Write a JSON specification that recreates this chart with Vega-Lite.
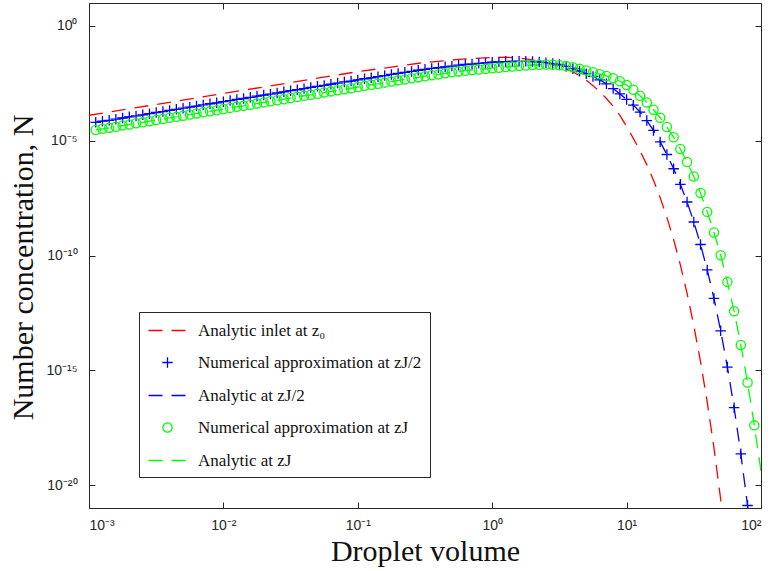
{
  "$schema": "https://vega.github.io/schema/vega-lite/v6.json",
  "autosize": "none",
  "width": 672,
  "height": 505,
  "padding": {"left": 89, "top": 3, "right": 11, "bottom": 63},
  "background": "white",
  "config": {
    "view": {"stroke": null},
    "axis": {"grid": false, "domainColor": "#262626", "tickColor": "#262626", "labelColor": "#262626", "labelFont": "Liberation Sans", "labelFontSize": 14, "tickSize": -6, "domainWidth": 1, "tickWidth": 1, "titleFont": "Liberation Serif", "titleFontSize": 30, "titleFontWeight": "normal", "titleColor": "#111111"},
    "legend": {"orient": "none", "legendX": 50, "legendY": 309, "strokeColor": "#262626", "fillColor": "white", "padding": 8, "labelFont": "Liberation Serif", "labelFontSize": 17, "labelColor": "#111111", "labelLimit": 400, "rowPadding": 14, "symbolStrokeWidth": 1.3, "symbolOffset": 10, "labelOffset": 20, "title": null}
  },
  "data": {"values": [
{"volume":0.001,"N":1.288e-4,"series":"inlet"},
{"volume":0.003162,"N":3.802e-4,"series":"inlet"},
{"volume":0.01,"N":1.148e-3,"series":"inlet"},
{"volume":0.03162,"N":3.388e-3,"series":"inlet"},
{"volume":0.1,"N":1.023e-2,"series":"inlet"},
{"volume":0.1778,"N":1.622e-2,"series":"inlet"},
{"volume":0.3162,"N":2.57e-2,"series":"inlet"},
{"volume":0.5623,"N":3.467e-2,"series":"inlet"},
{"volume":1,"N":4.266e-2,"series":"inlet"},
{"volume":1.259,"N":4.365e-2,"series":"inlet"},
{"volume":1.585,"N":3.981e-2,"series":"inlet"},
{"volume":1.995,"N":3.311e-2,"series":"inlet"},
{"volume":2.512,"N":2.512e-2,"series":"inlet"},
{"volume":3.162,"N":1.66e-2,"series":"inlet"},
{"volume":3.548,"N":1.318e-2,"series":"inlet"},
{"volume":3.981,"N":1e-2,"series":"inlet"},
{"volume":4.467,"N":6.761e-3,"series":"inlet"},
{"volume":5.012,"N":4.266e-3,"series":"inlet"},
{"volume":5.623,"N":2.512e-3,"series":"inlet"},
{"volume":6.31,"N":1.38e-3,"series":"inlet"},
{"volume":7.079,"N":6.918e-4,"series":"inlet"},
{"volume":7.943,"N":3.162e-4,"series":"inlet"},
{"volume":8.913,"N":1.259e-4,"series":"inlet"},
{"volume":10,"N":4.169e-5,"series":"inlet"},
{"volume":11.22,"N":1.259e-5,"series":"inlet"},
{"volume":12.59,"N":3.631e-6,"series":"inlet"},
{"volume":14.13,"N":9.12e-7,"series":"inlet"},
{"volume":15.85,"N":1.905e-7,"series":"inlet"},
{"volume":17.78,"N":3.311e-8,"series":"inlet"},
{"volume":19.95,"N":4.571e-9,"series":"inlet"},
{"volume":22.39,"N":4.898e-10,"series":"inlet"},
{"volume":25.12,"N":3.89e-11,"series":"inlet"},
{"volume":28.18,"N":2.239e-12,"series":"inlet"},
{"volume":31.62,"N":8.913e-14,"series":"inlet"},
{"volume":35.48,"N":2.399e-15,"series":"inlet"},
{"volume":39.81,"N":4.074e-17,"series":"inlet"},
{"volume":44.67,"N":4.169e-19,"series":"inlet"},
{"volume":50.12,"N":2.399e-21,"series":"inlet"},
{"volume":56.23,"N":7.244e-24,"series":"inlet"},
{"volume":0.001122,"N":6.31e-5,"series":"numHalf"},
{"volume":0.001259,"N":7.079e-5,"series":"numHalf"},
{"volume":0.001413,"N":7.762e-5,"series":"numHalf"},
{"volume":0.001585,"N":8.71e-5,"series":"numHalf"},
{"volume":0.001778,"N":9.772e-5,"series":"numHalf"},
{"volume":0.001995,"N":1.096e-4,"series":"numHalf"},
{"volume":0.002239,"N":1.202e-4,"series":"numHalf"},
{"volume":0.002512,"N":1.349e-4,"series":"numHalf"},
{"volume":0.002818,"N":1.514e-4,"series":"numHalf"},
{"volume":0.003162,"N":1.698e-4,"series":"numHalf"},
{"volume":0.003548,"N":1.862e-4,"series":"numHalf"},
{"volume":0.003981,"N":2.089e-4,"series":"numHalf"},
{"volume":0.004467,"N":2.344e-4,"series":"numHalf"},
{"volume":0.005012,"N":2.63e-4,"series":"numHalf"},
{"volume":0.005623,"N":2.884e-4,"series":"numHalf"},
{"volume":0.00631,"N":3.236e-4,"series":"numHalf"},
{"volume":0.007079,"N":3.631e-4,"series":"numHalf"},
{"volume":0.007943,"N":4.074e-4,"series":"numHalf"},
{"volume":0.008913,"N":4.467e-4,"series":"numHalf"},
{"volume":0.01,"N":5.012e-4,"series":"numHalf"},
{"volume":0.01122,"N":5.623e-4,"series":"numHalf"},
{"volume":0.01259,"N":6.31e-4,"series":"numHalf"},
{"volume":0.01413,"N":6.918e-4,"series":"numHalf"},
{"volume":0.01585,"N":7.762e-4,"series":"numHalf"},
{"volume":0.01778,"N":8.71e-4,"series":"numHalf"},
{"volume":0.01995,"N":9.772e-4,"series":"numHalf"},
{"volume":0.02239,"N":1.072e-3,"series":"numHalf"},
{"volume":0.02512,"N":1.202e-3,"series":"numHalf"},
{"volume":0.02818,"N":1.349e-3,"series":"numHalf"},
{"volume":0.03162,"N":1.514e-3,"series":"numHalf"},
{"volume":0.03548,"N":1.66e-3,"series":"numHalf"},
{"volume":0.03981,"N":1.862e-3,"series":"numHalf"},
{"volume":0.04467,"N":2.089e-3,"series":"numHalf"},
{"volume":0.05012,"N":2.344e-3,"series":"numHalf"},
{"volume":0.05623,"N":2.57e-3,"series":"numHalf"},
{"volume":0.0631,"N":2.884e-3,"series":"numHalf"},
{"volume":0.07079,"N":3.236e-3,"series":"numHalf"},
{"volume":0.07943,"N":3.631e-3,"series":"numHalf"},
{"volume":0.08913,"N":3.981e-3,"series":"numHalf"},
{"volume":0.1,"N":4.467e-3,"series":"numHalf"},
{"volume":0.1122,"N":5.012e-3,"series":"numHalf"},
{"volume":0.1259,"N":5.495e-3,"series":"numHalf"},
{"volume":0.1413,"N":6.166e-3,"series":"numHalf"},
{"volume":0.1585,"N":6.918e-3,"series":"numHalf"},
{"volume":0.1778,"N":7.762e-3,"series":"numHalf"},
{"volume":0.1995,"N":8.511e-3,"series":"numHalf"},
{"volume":0.2239,"N":9.55e-3,"series":"numHalf"},
{"volume":0.2512,"N":1.047e-2,"series":"numHalf"},
{"volume":0.2818,"N":1.175e-2,"series":"numHalf"},
{"volume":0.3162,"N":1.288e-2,"series":"numHalf"},
{"volume":0.3548,"N":1.413e-2,"series":"numHalf"},
{"volume":0.3981,"N":1.514e-2,"series":"numHalf"},
{"volume":0.4467,"N":1.66e-2,"series":"numHalf"},
{"volume":0.5012,"N":1.778e-2,"series":"numHalf"},
{"volume":0.5623,"N":1.95e-2,"series":"numHalf"},
{"volume":0.631,"N":2.089e-2,"series":"numHalf"},
{"volume":0.7079,"N":2.188e-2,"series":"numHalf"},
{"volume":0.7943,"N":2.344e-2,"series":"numHalf"},
{"volume":0.8913,"N":2.455e-2,"series":"numHalf"},
{"volume":1,"N":2.63e-2,"series":"numHalf"},
{"volume":1.122,"N":2.692e-2,"series":"numHalf"},
{"volume":1.259,"N":2.818e-2,"series":"numHalf"},
{"volume":1.413,"N":2.884e-2,"series":"numHalf"},
{"volume":1.585,"N":2.884e-2,"series":"numHalf"},
{"volume":1.778,"N":2.884e-2,"series":"numHalf"},
{"volume":1.995,"N":2.818e-2,"series":"numHalf"},
{"volume":2.239,"N":2.692e-2,"series":"numHalf"},
{"volume":2.512,"N":2.512e-2,"series":"numHalf"},
{"volume":2.818,"N":2.291e-2,"series":"numHalf"},
{"volume":3.162,"N":2.089e-2,"series":"numHalf"},
{"volume":3.548,"N":1.738e-2,"series":"numHalf"},
{"volume":3.981,"N":1.38e-2,"series":"numHalf"},
{"volume":4.467,"N":1.072e-2,"series":"numHalf"},
{"volume":5.012,"N":8.318e-3,"series":"numHalf"},
{"volume":5.623,"N":6.31e-3,"series":"numHalf"},
{"volume":6.31,"N":4.467e-3,"series":"numHalf"},
{"volume":7.079,"N":3.02e-3,"series":"numHalf"},
{"volume":7.943,"N":1.862e-3,"series":"numHalf"},
{"volume":8.913,"N":1.096e-3,"series":"numHalf"},
{"volume":10,"N":6.31e-4,"series":"numHalf"},
{"volume":11.22,"N":3.548e-4,"series":"numHalf"},
{"volume":12.59,"N":1.778e-4,"series":"numHalf"},
{"volume":14.13,"N":7.586e-5,"series":"numHalf"},
{"volume":15.85,"N":2.818e-5,"series":"numHalf"},
{"volume":17.78,"N":8.913e-6,"series":"numHalf"},
{"volume":19.95,"N":2.512e-6,"series":"numHalf"},
{"volume":22.39,"N":6.026e-7,"series":"numHalf"},
{"volume":25.12,"N":1.259e-7,"series":"numHalf"},
{"volume":28.18,"N":2.138e-8,"series":"numHalf"},
{"volume":31.62,"N":2.884e-9,"series":"numHalf"},
{"volume":35.48,"N":3.02e-10,"series":"numHalf"},
{"volume":39.81,"N":2.344e-11,"series":"numHalf"},
{"volume":44.67,"N":1.349e-12,"series":"numHalf"},
{"volume":50.12,"N":5.248e-14,"series":"numHalf"},
{"volume":56.23,"N":1.38e-15,"series":"numHalf"},
{"volume":63.1,"N":2.344e-17,"series":"numHalf"},
{"volume":70.79,"N":2.291e-19,"series":"numHalf"},
{"volume":79.43,"N":1.288e-21,"series":"numHalf"},
{"volume":89.13,"N":3.981e-24,"series":"numHalf"},
{"volume":0.001122,"N":6.31e-5,"series":"anaHalf"},
{"volume":0.001259,"N":7.079e-5,"series":"anaHalf"},
{"volume":0.001413,"N":7.762e-5,"series":"anaHalf"},
{"volume":0.001585,"N":8.71e-5,"series":"anaHalf"},
{"volume":0.001778,"N":9.772e-5,"series":"anaHalf"},
{"volume":0.001995,"N":1.096e-4,"series":"anaHalf"},
{"volume":0.002239,"N":1.202e-4,"series":"anaHalf"},
{"volume":0.002512,"N":1.349e-4,"series":"anaHalf"},
{"volume":0.002818,"N":1.514e-4,"series":"anaHalf"},
{"volume":0.003162,"N":1.698e-4,"series":"anaHalf"},
{"volume":0.003548,"N":1.862e-4,"series":"anaHalf"},
{"volume":0.003981,"N":2.089e-4,"series":"anaHalf"},
{"volume":0.004467,"N":2.344e-4,"series":"anaHalf"},
{"volume":0.005012,"N":2.63e-4,"series":"anaHalf"},
{"volume":0.005623,"N":2.884e-4,"series":"anaHalf"},
{"volume":0.00631,"N":3.236e-4,"series":"anaHalf"},
{"volume":0.007079,"N":3.631e-4,"series":"anaHalf"},
{"volume":0.007943,"N":4.074e-4,"series":"anaHalf"},
{"volume":0.008913,"N":4.467e-4,"series":"anaHalf"},
{"volume":0.01,"N":5.012e-4,"series":"anaHalf"},
{"volume":0.01122,"N":5.623e-4,"series":"anaHalf"},
{"volume":0.01259,"N":6.31e-4,"series":"anaHalf"},
{"volume":0.01413,"N":6.918e-4,"series":"anaHalf"},
{"volume":0.01585,"N":7.762e-4,"series":"anaHalf"},
{"volume":0.01778,"N":8.71e-4,"series":"anaHalf"},
{"volume":0.01995,"N":9.772e-4,"series":"anaHalf"},
{"volume":0.02239,"N":1.072e-3,"series":"anaHalf"},
{"volume":0.02512,"N":1.202e-3,"series":"anaHalf"},
{"volume":0.02818,"N":1.349e-3,"series":"anaHalf"},
{"volume":0.03162,"N":1.514e-3,"series":"anaHalf"},
{"volume":0.03548,"N":1.66e-3,"series":"anaHalf"},
{"volume":0.03981,"N":1.862e-3,"series":"anaHalf"},
{"volume":0.04467,"N":2.089e-3,"series":"anaHalf"},
{"volume":0.05012,"N":2.344e-3,"series":"anaHalf"},
{"volume":0.05623,"N":2.57e-3,"series":"anaHalf"},
{"volume":0.0631,"N":2.884e-3,"series":"anaHalf"},
{"volume":0.07079,"N":3.236e-3,"series":"anaHalf"},
{"volume":0.07943,"N":3.631e-3,"series":"anaHalf"},
{"volume":0.08913,"N":3.981e-3,"series":"anaHalf"},
{"volume":0.1,"N":4.467e-3,"series":"anaHalf"},
{"volume":0.1122,"N":5.012e-3,"series":"anaHalf"},
{"volume":0.1259,"N":5.495e-3,"series":"anaHalf"},
{"volume":0.1413,"N":6.166e-3,"series":"anaHalf"},
{"volume":0.1585,"N":6.918e-3,"series":"anaHalf"},
{"volume":0.1778,"N":7.762e-3,"series":"anaHalf"},
{"volume":0.1995,"N":8.511e-3,"series":"anaHalf"},
{"volume":0.2239,"N":9.55e-3,"series":"anaHalf"},
{"volume":0.2512,"N":1.047e-2,"series":"anaHalf"},
{"volume":0.2818,"N":1.175e-2,"series":"anaHalf"},
{"volume":0.3162,"N":1.288e-2,"series":"anaHalf"},
{"volume":0.3548,"N":1.413e-2,"series":"anaHalf"},
{"volume":0.3981,"N":1.514e-2,"series":"anaHalf"},
{"volume":0.4467,"N":1.66e-2,"series":"anaHalf"},
{"volume":0.5012,"N":1.778e-2,"series":"anaHalf"},
{"volume":0.5623,"N":1.95e-2,"series":"anaHalf"},
{"volume":0.631,"N":2.089e-2,"series":"anaHalf"},
{"volume":0.7079,"N":2.188e-2,"series":"anaHalf"},
{"volume":0.7943,"N":2.344e-2,"series":"anaHalf"},
{"volume":0.8913,"N":2.455e-2,"series":"anaHalf"},
{"volume":1,"N":2.63e-2,"series":"anaHalf"},
{"volume":1.122,"N":2.692e-2,"series":"anaHalf"},
{"volume":1.259,"N":2.818e-2,"series":"anaHalf"},
{"volume":1.413,"N":2.884e-2,"series":"anaHalf"},
{"volume":1.585,"N":2.884e-2,"series":"anaHalf"},
{"volume":1.778,"N":2.884e-2,"series":"anaHalf"},
{"volume":1.995,"N":2.818e-2,"series":"anaHalf"},
{"volume":2.239,"N":2.692e-2,"series":"anaHalf"},
{"volume":2.512,"N":2.512e-2,"series":"anaHalf"},
{"volume":2.818,"N":2.291e-2,"series":"anaHalf"},
{"volume":3.162,"N":2.089e-2,"series":"anaHalf"},
{"volume":3.548,"N":1.738e-2,"series":"anaHalf"},
{"volume":3.981,"N":1.38e-2,"series":"anaHalf"},
{"volume":4.467,"N":1.072e-2,"series":"anaHalf"},
{"volume":5.012,"N":8.318e-3,"series":"anaHalf"},
{"volume":5.623,"N":6.31e-3,"series":"anaHalf"},
{"volume":6.31,"N":4.467e-3,"series":"anaHalf"},
{"volume":7.079,"N":3.02e-3,"series":"anaHalf"},
{"volume":7.943,"N":1.862e-3,"series":"anaHalf"},
{"volume":8.913,"N":1.096e-3,"series":"anaHalf"},
{"volume":10,"N":6.31e-4,"series":"anaHalf"},
{"volume":11.22,"N":3.548e-4,"series":"anaHalf"},
{"volume":12.59,"N":1.778e-4,"series":"anaHalf"},
{"volume":14.13,"N":7.586e-5,"series":"anaHalf"},
{"volume":15.85,"N":2.818e-5,"series":"anaHalf"},
{"volume":17.78,"N":8.913e-6,"series":"anaHalf"},
{"volume":19.95,"N":2.512e-6,"series":"anaHalf"},
{"volume":22.39,"N":6.026e-7,"series":"anaHalf"},
{"volume":25.12,"N":1.259e-7,"series":"anaHalf"},
{"volume":28.18,"N":2.138e-8,"series":"anaHalf"},
{"volume":31.62,"N":2.884e-9,"series":"anaHalf"},
{"volume":35.48,"N":3.02e-10,"series":"anaHalf"},
{"volume":39.81,"N":2.344e-11,"series":"anaHalf"},
{"volume":44.67,"N":1.349e-12,"series":"anaHalf"},
{"volume":50.12,"N":5.248e-14,"series":"anaHalf"},
{"volume":56.23,"N":1.38e-15,"series":"anaHalf"},
{"volume":63.1,"N":2.344e-17,"series":"anaHalf"},
{"volume":70.79,"N":2.291e-19,"series":"anaHalf"},
{"volume":79.43,"N":1.288e-21,"series":"anaHalf"},
{"volume":89.13,"N":3.981e-24,"series":"anaHalf"},
{"volume":0.001122,"N":2.951e-5,"series":"numJ"},
{"volume":0.001259,"N":3.311e-5,"series":"numJ"},
{"volume":0.001413,"N":3.631e-5,"series":"numJ"},
{"volume":0.001585,"N":4.074e-5,"series":"numJ"},
{"volume":0.001778,"N":4.571e-5,"series":"numJ"},
{"volume":0.001995,"N":5.129e-5,"series":"numJ"},
{"volume":0.002239,"N":5.754e-5,"series":"numJ"},
{"volume":0.002512,"N":6.31e-5,"series":"numJ"},
{"volume":0.002818,"N":7.079e-5,"series":"numJ"},
{"volume":0.003162,"N":7.943e-5,"series":"numJ"},
{"volume":0.003548,"N":8.913e-5,"series":"numJ"},
{"volume":0.003981,"N":1e-4,"series":"numJ"},
{"volume":0.004467,"N":1.096e-4,"series":"numJ"},
{"volume":0.005012,"N":1.23e-4,"series":"numJ"},
{"volume":0.005623,"N":1.38e-4,"series":"numJ"},
{"volume":0.00631,"N":1.549e-4,"series":"numJ"},
{"volume":0.007079,"N":1.738e-4,"series":"numJ"},
{"volume":0.007943,"N":1.905e-4,"series":"numJ"},
{"volume":0.008913,"N":2.138e-4,"series":"numJ"},
{"volume":0.01,"N":2.399e-4,"series":"numJ"},
{"volume":0.01122,"N":2.692e-4,"series":"numJ"},
{"volume":0.01259,"N":3.02e-4,"series":"numJ"},
{"volume":0.01413,"N":3.311e-4,"series":"numJ"},
{"volume":0.01585,"N":3.715e-4,"series":"numJ"},
{"volume":0.01778,"N":4.169e-4,"series":"numJ"},
{"volume":0.01995,"N":4.677e-4,"series":"numJ"},
{"volume":0.02239,"N":5.248e-4,"series":"numJ"},
{"volume":0.02512,"N":5.754e-4,"series":"numJ"},
{"volume":0.02818,"N":6.457e-4,"series":"numJ"},
{"volume":0.03162,"N":7.244e-4,"series":"numJ"},
{"volume":0.03548,"N":8.128e-4,"series":"numJ"},
{"volume":0.03981,"N":9.12e-4,"series":"numJ"},
{"volume":0.04467,"N":1e-3,"series":"numJ"},
{"volume":0.05012,"N":1.122e-3,"series":"numJ"},
{"volume":0.05623,"N":1.259e-3,"series":"numJ"},
{"volume":0.0631,"N":1.413e-3,"series":"numJ"},
{"volume":0.07079,"N":1.585e-3,"series":"numJ"},
{"volume":0.07943,"N":1.738e-3,"series":"numJ"},
{"volume":0.08913,"N":1.95e-3,"series":"numJ"},
{"volume":0.1,"N":2.188e-3,"series":"numJ"},
{"volume":0.1122,"N":2.455e-3,"series":"numJ"},
{"volume":0.1259,"N":2.754e-3,"series":"numJ"},
{"volume":0.1413,"N":3.02e-3,"series":"numJ"},
{"volume":0.1585,"N":3.388e-3,"series":"numJ"},
{"volume":0.1778,"N":3.802e-3,"series":"numJ"},
{"volume":0.1995,"N":4.266e-3,"series":"numJ"},
{"volume":0.2239,"N":4.677e-3,"series":"numJ"},
{"volume":0.2512,"N":5.248e-3,"series":"numJ"},
{"volume":0.2818,"N":5.754e-3,"series":"numJ"},
{"volume":0.3162,"N":6.457e-3,"series":"numJ"},
{"volume":0.3548,"N":7.079e-3,"series":"numJ"},
{"volume":0.3981,"N":7.762e-3,"series":"numJ"},
{"volume":0.4467,"N":8.71e-3,"series":"numJ"},
{"volume":0.5012,"N":9.55e-3,"series":"numJ"},
{"volume":0.5623,"N":1.047e-2,"series":"numJ"},
{"volume":0.631,"N":1.122e-2,"series":"numJ"},
{"volume":0.7079,"N":1.202e-2,"series":"numJ"},
{"volume":0.7943,"N":1.259e-2,"series":"numJ"},
{"volume":0.8913,"N":1.349e-2,"series":"numJ"},
{"volume":1,"N":1.445e-2,"series":"numJ"},
{"volume":1.122,"N":1.514e-2,"series":"numJ"},
{"volume":1.259,"N":1.622e-2,"series":"numJ"},
{"volume":1.413,"N":1.698e-2,"series":"numJ"},
{"volume":1.585,"N":1.82e-2,"series":"numJ"},
{"volume":1.778,"N":1.905e-2,"series":"numJ"},
{"volume":1.995,"N":1.995e-2,"series":"numJ"},
{"volume":2.239,"N":2.042e-2,"series":"numJ"},
{"volume":2.512,"N":2.089e-2,"series":"numJ"},
{"volume":2.818,"N":2.042e-2,"series":"numJ"},
{"volume":3.162,"N":1.95e-2,"series":"numJ"},
{"volume":3.548,"N":1.778e-2,"series":"numJ"},
{"volume":3.981,"N":1.585e-2,"series":"numJ"},
{"volume":4.467,"N":1.349e-2,"series":"numJ"},
{"volume":5.012,"N":1.148e-2,"series":"numJ"},
{"volume":5.623,"N":9.55e-3,"series":"numJ"},
{"volume":6.31,"N":7.943e-3,"series":"numJ"},
{"volume":7.079,"N":6.607e-3,"series":"numJ"},
{"volume":7.943,"N":5.248e-3,"series":"numJ"},
{"volume":8.913,"N":3.89e-3,"series":"numJ"},
{"volume":10,"N":2.692e-3,"series":"numJ"},
{"volume":11.22,"N":1.66e-3,"series":"numJ"},
{"volume":12.59,"N":9.12e-4,"series":"numJ"},
{"volume":14.13,"N":4.677e-4,"series":"numJ"},
{"volume":15.85,"N":2.239e-4,"series":"numJ"},
{"volume":17.78,"N":1e-4,"series":"numJ"},
{"volume":19.95,"N":3.981e-5,"series":"numJ"},
{"volume":22.39,"N":1.413e-5,"series":"numJ"},
{"volume":25.12,"N":4.365e-6,"series":"numJ"},
{"volume":28.18,"N":1.175e-6,"series":"numJ"},
{"volume":31.62,"N":2.754e-7,"series":"numJ"},
{"volume":35.48,"N":5.248e-8,"series":"numJ"},
{"volume":39.81,"N":7.943e-9,"series":"numJ"},
{"volume":44.67,"N":1e-9,"series":"numJ"},
{"volume":50.12,"N":1.023e-10,"series":"numJ"},
{"volume":56.23,"N":7.079e-12,"series":"numJ"},
{"volume":63.1,"N":3.715e-13,"series":"numJ"},
{"volume":70.79,"N":1.259e-14,"series":"numJ"},
{"volume":79.43,"N":2.951e-16,"series":"numJ"},
{"volume":89.13,"N":3.981e-18,"series":"numJ"},
{"volume":0.001122,"N":2.951e-5,"series":"anaJ"},
{"volume":0.001259,"N":3.311e-5,"series":"anaJ"},
{"volume":0.001413,"N":3.631e-5,"series":"anaJ"},
{"volume":0.001585,"N":4.074e-5,"series":"anaJ"},
{"volume":0.001778,"N":4.571e-5,"series":"anaJ"},
{"volume":0.001995,"N":5.129e-5,"series":"anaJ"},
{"volume":0.002239,"N":5.754e-5,"series":"anaJ"},
{"volume":0.002512,"N":6.31e-5,"series":"anaJ"},
{"volume":0.002818,"N":7.079e-5,"series":"anaJ"},
{"volume":0.003162,"N":7.943e-5,"series":"anaJ"},
{"volume":0.003548,"N":8.913e-5,"series":"anaJ"},
{"volume":0.003981,"N":1e-4,"series":"anaJ"},
{"volume":0.004467,"N":1.096e-4,"series":"anaJ"},
{"volume":0.005012,"N":1.23e-4,"series":"anaJ"},
{"volume":0.005623,"N":1.38e-4,"series":"anaJ"},
{"volume":0.00631,"N":1.549e-4,"series":"anaJ"},
{"volume":0.007079,"N":1.738e-4,"series":"anaJ"},
{"volume":0.007943,"N":1.905e-4,"series":"anaJ"},
{"volume":0.008913,"N":2.138e-4,"series":"anaJ"},
{"volume":0.01,"N":2.399e-4,"series":"anaJ"},
{"volume":0.01122,"N":2.692e-4,"series":"anaJ"},
{"volume":0.01259,"N":3.02e-4,"series":"anaJ"},
{"volume":0.01413,"N":3.311e-4,"series":"anaJ"},
{"volume":0.01585,"N":3.715e-4,"series":"anaJ"},
{"volume":0.01778,"N":4.169e-4,"series":"anaJ"},
{"volume":0.01995,"N":4.677e-4,"series":"anaJ"},
{"volume":0.02239,"N":5.248e-4,"series":"anaJ"},
{"volume":0.02512,"N":5.754e-4,"series":"anaJ"},
{"volume":0.02818,"N":6.457e-4,"series":"anaJ"},
{"volume":0.03162,"N":7.244e-4,"series":"anaJ"},
{"volume":0.03548,"N":8.128e-4,"series":"anaJ"},
{"volume":0.03981,"N":9.12e-4,"series":"anaJ"},
{"volume":0.04467,"N":1e-3,"series":"anaJ"},
{"volume":0.05012,"N":1.122e-3,"series":"anaJ"},
{"volume":0.05623,"N":1.259e-3,"series":"anaJ"},
{"volume":0.0631,"N":1.413e-3,"series":"anaJ"},
{"volume":0.07079,"N":1.585e-3,"series":"anaJ"},
{"volume":0.07943,"N":1.738e-3,"series":"anaJ"},
{"volume":0.08913,"N":1.95e-3,"series":"anaJ"},
{"volume":0.1,"N":2.188e-3,"series":"anaJ"},
{"volume":0.1122,"N":2.455e-3,"series":"anaJ"},
{"volume":0.1259,"N":2.754e-3,"series":"anaJ"},
{"volume":0.1413,"N":3.02e-3,"series":"anaJ"},
{"volume":0.1585,"N":3.388e-3,"series":"anaJ"},
{"volume":0.1778,"N":3.802e-3,"series":"anaJ"},
{"volume":0.1995,"N":4.266e-3,"series":"anaJ"},
{"volume":0.2239,"N":4.677e-3,"series":"anaJ"},
{"volume":0.2512,"N":5.248e-3,"series":"anaJ"},
{"volume":0.2818,"N":5.754e-3,"series":"anaJ"},
{"volume":0.3162,"N":6.457e-3,"series":"anaJ"},
{"volume":0.3548,"N":7.079e-3,"series":"anaJ"},
{"volume":0.3981,"N":7.762e-3,"series":"anaJ"},
{"volume":0.4467,"N":8.71e-3,"series":"anaJ"},
{"volume":0.5012,"N":9.55e-3,"series":"anaJ"},
{"volume":0.5623,"N":1.047e-2,"series":"anaJ"},
{"volume":0.631,"N":1.122e-2,"series":"anaJ"},
{"volume":0.7079,"N":1.202e-2,"series":"anaJ"},
{"volume":0.7943,"N":1.259e-2,"series":"anaJ"},
{"volume":0.8913,"N":1.349e-2,"series":"anaJ"},
{"volume":1,"N":1.445e-2,"series":"anaJ"},
{"volume":1.122,"N":1.514e-2,"series":"anaJ"},
{"volume":1.259,"N":1.622e-2,"series":"anaJ"},
{"volume":1.413,"N":1.698e-2,"series":"anaJ"},
{"volume":1.585,"N":1.82e-2,"series":"anaJ"},
{"volume":1.778,"N":1.905e-2,"series":"anaJ"},
{"volume":1.995,"N":1.995e-2,"series":"anaJ"},
{"volume":2.239,"N":2.042e-2,"series":"anaJ"},
{"volume":2.512,"N":2.089e-2,"series":"anaJ"},
{"volume":2.818,"N":2.042e-2,"series":"anaJ"},
{"volume":3.162,"N":1.95e-2,"series":"anaJ"},
{"volume":3.548,"N":1.778e-2,"series":"anaJ"},
{"volume":3.981,"N":1.585e-2,"series":"anaJ"},
{"volume":4.467,"N":1.349e-2,"series":"anaJ"},
{"volume":5.012,"N":1.148e-2,"series":"anaJ"},
{"volume":5.623,"N":9.55e-3,"series":"anaJ"},
{"volume":6.31,"N":7.943e-3,"series":"anaJ"},
{"volume":7.079,"N":6.607e-3,"series":"anaJ"},
{"volume":7.943,"N":5.248e-3,"series":"anaJ"},
{"volume":8.913,"N":3.89e-3,"series":"anaJ"},
{"volume":10,"N":2.692e-3,"series":"anaJ"},
{"volume":11.22,"N":1.66e-3,"series":"anaJ"},
{"volume":12.59,"N":9.12e-4,"series":"anaJ"},
{"volume":14.13,"N":4.677e-4,"series":"anaJ"},
{"volume":15.85,"N":2.239e-4,"series":"anaJ"},
{"volume":17.78,"N":1e-4,"series":"anaJ"},
{"volume":19.95,"N":3.981e-5,"series":"anaJ"},
{"volume":22.39,"N":1.413e-5,"series":"anaJ"},
{"volume":25.12,"N":4.365e-6,"series":"anaJ"},
{"volume":28.18,"N":1.175e-6,"series":"anaJ"},
{"volume":31.62,"N":2.754e-7,"series":"anaJ"},
{"volume":35.48,"N":5.248e-8,"series":"anaJ"},
{"volume":39.81,"N":7.943e-9,"series":"anaJ"},
{"volume":44.67,"N":1e-9,"series":"anaJ"},
{"volume":50.12,"N":1.023e-10,"series":"anaJ"},
{"volume":56.23,"N":7.079e-12,"series":"anaJ"},
{"volume":63.1,"N":3.715e-13,"series":"anaJ"},
{"volume":70.79,"N":1.259e-14,"series":"anaJ"},
{"volume":79.43,"N":2.951e-16,"series":"anaJ"},
{"volume":89.13,"N":3.981e-18,"series":"anaJ"},
{"volume":100,"N":3.981e-20,"series":"anaJ"}
  ]},
  "resolve": {"axis": {"x": "independent", "y": "independent"}},
  "layer": [
    {
      "transform": [{"filter": {"field": "series", "oneOf": ["inlet", "anaHalf", "anaJ"]}}],
      "mark": {"type": "line", "clip": true, "strokeWidth": 1.3},
      "encoding": {
        "x": {"field": "volume", "type": "quantitative", "scale": {"type": "log", "domain": [0.001, 100], "nice": false},
              "axis": {"orient": "bottom", "values": [0.001, 0.01, 0.1, 1, 10, 100], "labelPadding": 16, "title": "Droplet volume", "titlePadding": 4,
                       "labelExpr": "datum.value >= 99 ? '10²' : datum.value >= 9 ? '10¹' : datum.value >= 0.9 ? '10⁰' : datum.value >= 0.09 ? '10⁻¹' : datum.value >= 0.009 ? '10⁻²' : '10⁻³'"}},
        "y": {"field": "N", "type": "quantitative", "scale": {"type": "log", "domain": [1e-21, 10], "nice": false},
              "axis": {"orient": "left", "values": [1, 1e-5, 1e-10, 1e-15, 1e-20], "labelPadding": 18, "title": "Number concentration, N", "titlePadding": 7, "titleY": 264,
                       "labelExpr": "datum.value >= 0.5 ? '10⁰' : datum.value >= 1e-6 ? '10⁻⁵' : datum.value >= 1e-11 ? '10⁻¹⁰' : datum.value >= 1e-16 ? '10⁻¹⁵' : '10⁻²⁰'"}},
        "color": {"field": "series", "type": "ordinal", "scale": {"domain": ["inlet", "numHalf", "anaHalf", "numJ", "anaJ"], "range": ["#ff0000", "#0000ff", "#0000ff", "#00ff00", "#00ff00"]},
                  "legend": {"labelExpr": "datum.value == 'inlet' ? 'Analytic inlet at z₀' : datum.value == 'numHalf' ? 'Numerical approximation at zJ/2' : datum.value == 'anaHalf' ? 'Analytic at zJ/2' : datum.value == 'numJ' ? 'Numerical approximation at zJ' : 'Analytic at zJ'"}},
        "strokeDash": {"field": "series", "type": "ordinal", "scale": {"domain": ["inlet", "numHalf", "anaHalf", "numJ", "anaJ"], "range": [[14, 9], [1, 0], [14, 9], [1, 0], [14, 9]]}}
      }
    },
    {
      "transform": [{"filter": {"field": "series", "oneOf": ["numHalf", "numJ"]}}],
      "mark": {"type": "point", "clip": true, "filled": false, "strokeWidth": 1.3, "opacity": 1},
      "encoding": {
        "x": {"field": "volume", "type": "quantitative", "axis": {"orient": "top", "values": [0.001, 0.01, 0.1, 1, 10, 100], "labels": false, "title": null}},
        "y": {"field": "N", "type": "quantitative", "axis": {"orient": "right", "values": [1, 1e-5, 1e-10, 1e-15, 1e-20], "labels": false, "title": null}},
        "color": {"field": "series", "type": "ordinal"},
        "shape": {"field": "series", "type": "ordinal", "scale": {"domain": ["inlet", "numHalf", "anaHalf", "numJ", "anaJ"], "range": ["M-2,0H2", "M-1,0H1M0,-1V1", "M-2,0H2", "circle", "M-2,0H2"]}},
        "size": {"field": "series", "type": "ordinal", "scale": {"type": "ordinal", "domain": ["inlet", "numHalf", "anaHalf", "numJ", "anaJ"], "range": [361, 110, 361, 85, 361]}}
      }
    }
  ]
}
